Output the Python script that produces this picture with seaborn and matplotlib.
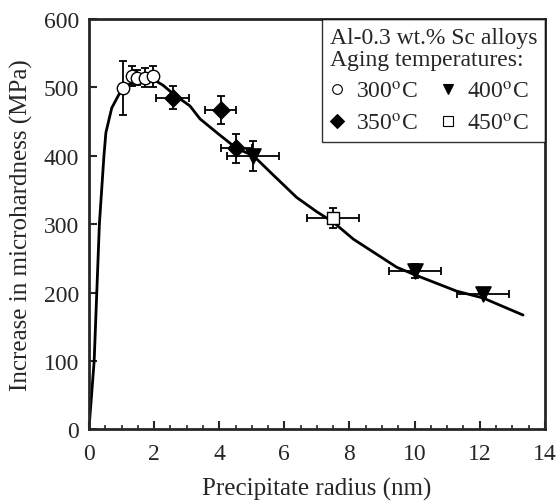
import numpy as np
import pandas as pd
import seaborn as sns
import matplotlib.pyplot as plt
from matplotlib.ticker import MultipleLocator

# fitted curve
curve_r = [0, 0.16, 0.24, 0.32, 0.46, 0.52, 0.7, 0.9, 1.05, 1.3, 1.6, 1.97, 2.28, 2.6,
           3.1, 3.41, 4.0, 4.53, 5.05, 5.7, 6.38, 7.0, 7.5, 8.12, 9.45, 10.0, 11.29, 12.1, 13.33]
curve_h = [0, 100, 200, 300, 400, 434, 470, 488, 500, 506, 510, 512, 503, 490,
           473, 454, 431, 411, 400, 370, 339, 318, 303, 278, 237, 226, 202, 192, 167]

# measurements per aging temperature
r300 = [1.05, 1.31, 1.48, 1.72, 1.96]
h300 = [499, 517, 514, 514, 516]
h300_err = [40, 15, 11, 14, 15]

r350 = [2.57, 4.04, 4.53]
h350 = [485, 467, 411]
r350_err = [0.5, 0.48, 0.47]
h350_err = [17, 21, 21]

r400 = [5.05, 10.01, 12.1]
h400 = [400, 231, 198]
r400_err = [0.8, 0.8, 0.79]
h400_err = [22, 10, 5]

r450 = [7.5]
h450 = [309]
r450_err = [0.8]
h450_err = [14]

temps = ["300", "350", "400", "450"]

sns.set_style("ticks")
plt.rcParams['font.family'] = ['Liberation Serif', 'DejaVu Serif']
plt.rcParams['mathtext.fontset'] = 'stix'

fig = plt.figure(figsize=(5.56, 5.02), dpi=100)
ax = fig.add_axes([0.160, 0.143, 0.820, 0.817])

curve = pd.DataFrame({"r": curve_r, "h": curve_h})
sns.lineplot(data=curve, x="r", y="h", color="black", lw=2, ax=ax, sort=False)

err_kw = dict(fmt="none", ecolor="black", elinewidth=1.3, capsize=3, capthick=1.3, zorder=3)
ax.errorbar(r300, h300, yerr=h300_err, **err_kw)
ax.errorbar(r350, h350, xerr=r350_err, yerr=h350_err, **err_kw)
ax.errorbar(r400, h400, xerr=r400_err, yerr=h400_err, **err_kw)
ax.errorbar(r450, h450, xerr=r450_err, yerr=h450_err, **err_kw)

pts = pd.DataFrame({
    "r": r300 + r350 + r400 + r450,
    "h": h300 + h350 + h400 + h450,
    "T": [temps[0]] * len(r300) + [temps[1]] * len(r350) + [temps[2]] * len(r400) + [temps[3]] * len(r450),
})
styles = {"300": ("o", "white", 80), "350": ("D", "black", 75),
          "400": ("v", "black", 120), "450": ("s", "white", 65)}
handles = []
for t in temps:
    sub = pts[pts["T"] == t]
    m, fc, s = styles[t]
    sns.scatterplot(data=sub, x="r", y="h", marker=m, color=fc, edgecolor="black",
                    linewidth=1, s=s, ax=ax, zorder=4, legend=False)
    handles.append(plt.Line2D([], [], ls="none", marker=m, mfc=fc, mec="black", ms=7, mew=0.8,
                              label=t + r"$^{\mathrm{o}}$C"))

leg = ax.legend(handles=handles, ncol=2, loc="upper right", borderaxespad=0,
                title="Al-0.3 wt.% Sc alloys\nAging temperatures:", fontsize=17,
                title_fontsize=17, frameon=True, fancybox=False, edgecolor="black",
                handlelength=0.6, handletextpad=0.5, columnspacing=1.0, labelspacing=0.45,
                borderpad=0.32)
leg._legend_box.align = "left"
leg.get_title().set_linespacing(1.1)
leg.get_frame().set_linewidth(1)

ax.set_xlim(0, 14)
ax.set_ylim(0, 600)
ax.xaxis.set_major_locator(MultipleLocator(2))
ax.xaxis.set_minor_locator(MultipleLocator(0.5))
ax.yaxis.set_major_locator(MultipleLocator(100))
ax.tick_params(direction="in", which="major", length=6, width=1.5, labelsize=17, pad=7)
ax.tick_params(axis="x", which="major", pad=10)
ax.tick_params(direction="in", which="minor", length=3, width=1.2)
for sp in ax.spines.values():
    sp.set_visible(True)
    sp.set_linewidth(2)

ax.set_xlabel("Precipitate radius (nm)", fontsize=18, labelpad=9)
ax.set_ylabel("Increase in microhardness (MPa)", fontsize=18, labelpad=8)

fig.savefig("out.png", dpi=100)
